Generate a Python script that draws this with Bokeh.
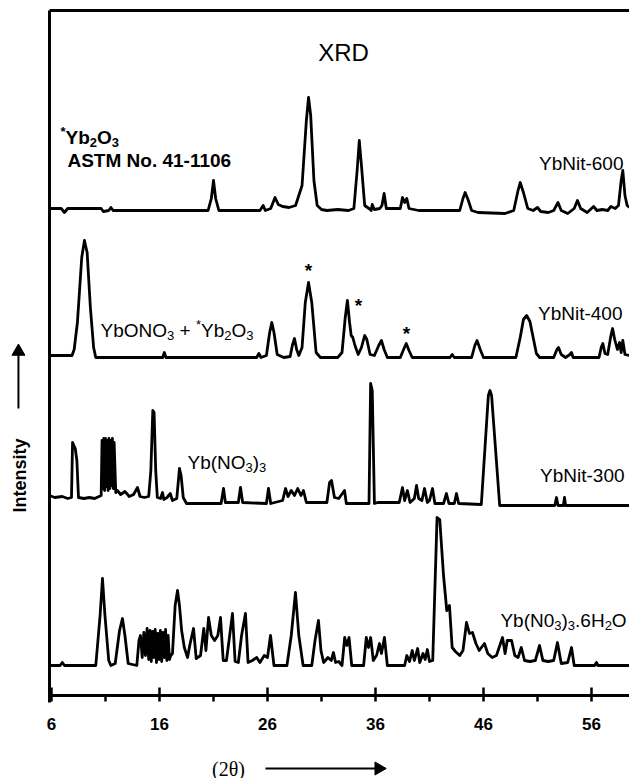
import math
from bokeh.plotting import figure
from bokeh.models import Range1d, FixedTicker, Label, LinearAxis
from bokeh.embed import file_html
from bokeh.resources import INLINE

# ---------------- data ----------------
# YbNit-600 (2theta, relative intensity)
tt_600 = [5.82, 6.9, 7.2, 7.5, 10.6, 10.8, 11.3, 11.5, 11.7, 13.0, 20.5, 20.8, 21.0, 21.2, 21.5,
          25.3, 25.6, 25.8, 26.3, 26.7, 27.0, 27.4, 28.0, 28.6, 29.2, 29.6, 29.8, 30.0, 30.3, 30.6,
          31.0, 31.5, 32.5, 33.5, 34.0, 34.3, 34.5, 34.7, 35.0, 35.4, 35.6, 35.7, 35.9, 36.4, 36.6,
          36.8, 37.0, 38.3, 38.5, 38.7, 38.9, 39.1, 40.0, 43.8, 44.1, 44.3, 44.6, 44.9, 45.5, 48.0,
          48.8, 49.2, 49.4, 49.7, 50.1, 50.6, 51.0, 51.3, 52.0, 52.5, 52.9, 53.2, 53.8, 54.4, 54.7,
          55.0, 55.6, 56.0, 56.2, 56.5, 57.0, 57.5, 57.8, 58.2, 58.5, 58.75, 58.9, 59.1, 59.3, 59.52]
int_600 = [2, 2, -2, 2, 2, -1, 0, 3, 0, 0, 0, 12, 30, 12, 0,
           0, 5, 0, 2, 13, 6, 4, 3, 5, 25, 90, 113, 95, 30, 5,
           1, 0, 1, 0, 2, 40, 70, 45, 5, 2, 0, 6, 1, 2, 5,
           17, 2, 2, 13, 8, 12, 2, 0, 0, 12, 18, 10, 0, -2, -3,
           0, 20, 28, 18, 2, 0, 3, -1, -2, 0, 8, 0, -3, 2, 10,
           2, -2, 2, 4, 0, 1, 0, 4, 2, 5, 30, 40, 15, 5, 3]

# YbNit-400
tt_400 = [5.82, 7.9, 8.1, 8.4, 8.8, 9.05, 9.3, 9.6, 9.9, 10.1, 12.0, 16.3, 16.45, 16.6, 25.0,
          25.2, 25.4, 25.9, 26.2, 26.4, 26.6, 26.9, 27.5, 28.1, 28.3, 28.5, 28.7, 28.9, 29.2, 29.5,
          29.8, 30.1, 30.5, 30.9, 32.5, 32.9, 33.2, 33.4, 33.6, 33.75, 33.9, 34.1, 34.4, 34.7, 35.0,
          35.2, 35.5, 35.9, 36.3, 36.55, 36.8, 37.1, 38.3, 38.6, 38.85, 39.1, 39.4, 42.9, 43.1, 43.3,
          44.9, 45.2, 45.4, 45.7, 46.0, 49.0, 49.4, 49.7, 50.0, 50.3, 50.6, 50.9, 51.2, 52.5, 52.8,
          52.95, 53.2, 53.6, 54.0, 54.15, 54.3, 56.7, 56.9, 57.05, 57.25, 57.5, 57.8, 57.95, 58.15, 58.4,
          58.6, 58.75, 58.9, 59.1, 59.52]
int_400 = [2, 2, 8, 35, 100, 117, 105, 50, 10, 0, 0, 0, 5, 0, 0,
           4, 0, 2, 25, 35, 25, 3, 0, 1, 12, 19, 8, 2, 10, 55,
           75, 55, 5, 0, 0, 5, 40, 57, 35, 22, 20, 12, 3, 10, 22,
           18, 3, 2, 12, 17, 8, 0, 0, 8, 14, 7, 0, 0, 3, 0,
           0, 12, 17, 8, 0, 0, 20, 38, 42, 36, 20, 4, 0, 0, 8,
           10, 3, 0, 3, 5, 0, 0, 10, 14, 4, 3, 22, 29, 18, 8,
           15, 5, 17, 3, 2]

# YbNit-300
tt_300 = [5.82, 6.3, 7.0, 7.5, 7.85, 7.95, 8.2, 8.35, 8.5, 9.0, 9.5, 10.0, 10.4, 10.6, 10.68,
          10.76, 10.84, 10.92, 11.0, 11.08, 11.16, 11.24, 11.32, 11.4, 11.48, 11.56, 11.64, 11.72, 11.8, 11.95,
          12.1, 12.4, 12.8, 13.2, 13.6, 13.96, 14.2, 14.6, 15.0, 15.2, 15.38, 15.5, 15.65, 15.8, 16.1,
          16.28, 16.4, 16.7, 17.0, 17.2, 17.6, 17.85, 18.0, 18.2, 18.5, 21.7, 21.93, 22.1, 23.3, 23.5,
          23.7, 25.9, 26.09, 26.3, 27.4, 27.67, 27.9, 28.2, 28.5, 28.8, 29.1, 29.33, 29.6, 31.5, 31.75,
          31.93, 32.2, 32.6, 33.13, 33.3, 35.4, 35.55, 35.7, 35.9, 36.2, 38.2, 38.5, 38.7, 38.96, 39.2,
          39.6, 39.8, 40.0, 40.3, 40.54, 40.8, 41.0, 41.28, 41.5, 42.3, 42.57, 42.8, 43.3, 43.5, 43.7,
          45.8, 46.45, 46.6, 46.75, 47.5, 52.6, 52.76, 52.9, 53.4, 53.5, 53.6, 59.52]
int_300 = [5, 3, 4, 2, 3, 58, 52, 40, 3, 2, 3, 2, 4, 5, 60,
           12, 62, 10, 62, 14, 60, 10, 62, 12, 60, 15, 62, 12, 58, 8,
           10, 6, 9, 4, 6, 13, 4, 3, 4, 30, 90, 88, 30, 3, 2,
           8, 1, 3, 7, 0, 2, 32, 25, 3, -3, -3, 12, -2, -2, 13,
           -2, -3, 12, -3, 0, 12, 4, 10, 5, 12, 5, 10, -2, -2, 18,
           20, 3, 2, 10, -3, -3, 117, 110, -3, -2, -2, 13, 0, 10, -2,
           2, 15, 2, 0, 12, -2, 0, 12, -3, -3, 7, -3, -3, 7, -3,
           -4, 105, 110, 105, -5, -5, 3, -5, -5, 3, -5, -5]

# Yb(NO3)3.6H2O
tt_hyd = [5.82, 6.8, 7.0, 7.2, 10.1, 10.5, 10.72, 10.95, 11.3, 11.5, 11.9, 12.3, 12.57, 12.8, 13.1,
          13.9, 14.1, 14.24, 14.4, 14.55, 14.7, 14.85, 15.0, 15.12, 15.24, 15.36, 15.48, 15.6, 15.72, 15.84,
          15.96, 16.08, 16.2, 16.32, 16.44, 16.56, 16.68, 16.8, 16.92, 17.05, 17.2, 17.45, 17.67, 17.85, 18.05,
          18.3, 18.6, 18.8, 19.15, 19.4, 19.8, 20.1, 20.3, 20.54, 20.8, 21.1, 21.4, 21.65, 21.9, 22.2,
          22.5, 22.76, 23.0, 23.3, 23.6, 23.96, 24.2, 24.6, 25.0, 25.3, 25.7, 26.0, 26.28, 26.6, 27.8,
          28.2, 28.59, 28.9, 29.3, 30.1, 30.4, 30.72, 30.95, 31.2, 31.6, 31.9, 32.11, 32.3, 32.6, 32.9,
          33.15, 33.35, 33.55, 33.8, 34.9, 35.15, 35.35, 35.55, 35.8, 36.1, 36.37, 36.55, 36.83, 37.1, 38.7,
          38.9, 39.15, 39.4, 39.6, 39.9, 40.1, 40.4, 40.6, 40.8, 41.0, 41.3, 41.7, 41.95, 42.3, 42.6,
          42.85, 43.1, 43.4, 43.8, 44.1, 44.43, 44.7, 44.98, 45.3, 45.6, 46.09, 46.4, 46.8, 47.2, 47.76,
          48.0, 48.2, 48.6, 48.9, 49.2, 49.5, 49.8, 50.3, 50.8, 51.19, 51.5, 52.0, 52.5, 52.85, 53.2,
          53.8, 54.15, 54.4, 56.3, 56.46, 56.6, 59.52]
int_hyd = [0, 0, 3, 0, 0, 50, 87, 50, 5, 0, 2, 35, 47, 30, 2,
           0, 25, 30, 8, 33, 10, 37, 6, 35, 4, 34, 8, 36, 3, 32,
           6, 35, 4, 33, 8, 36, 5, 30, 6, 10, 12, 60, 75, 60, 35,
           18, 8, 20, 37, 7, 10, 37, 15, 48, 30, 25, 30, 48, 5, 5,
           30, 52, 4, 3, 30, 52, 3, 5, 8, 3, 10, 8, 30, 0, 0,
           30, 73, 30, 0, 0, 25, 45, 15, 3, 8, 5, 13, 3, 4, 0,
           28, 20, 28, 0, 0, 28, 18, 28, 5, 10, 22, 12, 28, 0, 0,
           10, 4, 15, 5, 17, 3, 12, 6, 16, 4, 5, 148, 146, 90, 55,
           60, 18, 14, 10, 15, 43, 32, 33, 22, 15, 22, 12, 8, 10, 28,
           12, 25, 25, 10, 8, 18, 5, 4, 5, 20, 5, 4, 5, 23, 2,
           3, 18, 0, 0, 3, 0, 0]

patterns = [tt_600, tt_400, tt_300, tt_hyd]
intensities = [int_600, int_400, int_300, int_hyd]
offsets = [568, 421, 278, 113]          # vertical stacking of the four patterns

x_ticks = [6, 16, 26, 36, 46, 56]
x_minor = [11, 21, 31, 41, 51]

X0, X1 = 1.278, 59.52       # whole canvas width in 2-theta units
Y0, Y1 = 0, 778             # whole canvas height
AXIS_Y = 83                 # level of the 2-theta axis
LEFT_X = 5.815              # left frame line
TOP_Y = 768                 # top frame line

FONT = "Liberation Sans"

p = figure(width=629, height=778, x_range=Range1d(X0, X1), y_range=Range1d(Y0, Y1),
           output_backend="svg", toolbar_location=None,
           x_axis_location=None, y_axis_location=None,
           min_border_left=0, min_border_right=0, min_border_top=0, min_border_bottom=0)
p.outline_line_color = None
p.grid.visible = False
p.background_fill_color = "white"
p.border_fill_color = "white"

for tt, ii, off in zip(patterns, intensities, offsets):
    p.line(tt, [v + off for v in ii], line_color="black", line_width=2.8, line_join="round")

# frame lines (left and top)
p.line([LEFT_X, LEFT_X], [AXIS_Y - 7, TOP_Y], line_color="black", line_width=3)
p.line([LEFT_X, X1], [TOP_Y, TOP_Y], line_color="black", line_width=3)

ax = LinearAxis(fixed_location=AXIS_Y)
ax.bounds = (LEFT_X, X1)
ax.ticker = FixedTicker(ticks=x_ticks, minor_ticks=x_minor)
ax.axis_line_width = 3
ax.major_tick_line_width = 2.5
ax.minor_tick_line_width = 2.5
ax.major_tick_in = 8
ax.major_tick_out = 6
ax.minor_tick_in = 0
ax.minor_tick_out = 6
ax.major_label_text_font = FONT
ax.major_label_text_font_style = "bold"
ax.major_label_text_font_size = "17px"
ax.major_label_text_color = "black"
ax.major_label_standoff = 16
p.add_layout(ax, "below")


def lab(text, x, y, size="19px", style="normal", align="left", font=FONT, angle=0,
        dx=0, dy=0):
    p.add_layout(Label(x=x, y=y, text=text, text_font=font, text_font_size=size,
                       text_font_style=style, text_align=align, text_baseline="middle",
                       text_color="black", angle=angle, x_offset=dx, y_offset=dy))


# approximate advance widths (em) of Liberation Sans, for composing sub/superscripts
W_REG = {"Y": .667, "b": .556, "O": .778, "N": .722, "(": .333, ")": .333, "0": .556,
         "+": .584, " ": .278, ".": .278, "6": .556, "H": .722, "2": .556, "3": .556, "*": .389}
W_BOLD = {"Y": .667, "b": .611, "O": .778, "2": .556, "3": .556, "*": .389}


def formula(parts, x, y, style="normal", size=19):
    """parts: list of (text, kind); kind 'n' normal, 'sub', 'sup', or 'gap' (space only)"""
    table = W_BOLD if style == "bold" else W_REG
    off = 0.0
    for text, kind in parts:
        if kind == "gap":
            off += 0.278 * size
            continue
        fs = size if kind == "n" else 13
        dy = 0 if kind == "n" else (-5 if kind == "sub" else 6)
        lab(text, x, y, size=f"{fs}px", style=style, dx=off, dy=dy)
        off += sum(table.get(c, .556) for c in text) * fs


lab("XRD", 33.04, 726, size="24px", align="center")
formula([("*", "sup"), ("Yb", "n"), ("2", "sub"), ("O", "n"), ("3", "sub")], 6.83, 641,
        style="bold")
lab("ASTM No. 41-1106", 7.48, 618, style="bold")
lab("YbNit-600", 58.96, 615, align="right")
formula([("YbONO", "n"), ("3", "sub"), ("", "gap"), ("+", "n"), ("", "gap"), ("*", "sup"),
         ("Yb", "n"), ("2", "sub"), ("O", "n"), ("3", "sub")], 10.54, 448)
lab("YbNit-400", 58.87, 465, align="right")
formula([("Yb(NO", "n"), ("3", "sub"), (")", "n"), ("3", "sub")], 18.59, 316)
lab("YbNit-300", 59.06, 303, align="right")
formula([("Yb(N0", "n"), ("3", "sub"), (")", "n"), ("3", "sub"), (".6H", "n"), ("2", "sub"),
         ("O", "n")], 47.57, 158)
for sx, sy in [(29.8, 508), (34.43, 473), (38.87, 445)]:
    lab("*", sx, sy, size="19px", style="bold", align="center")

lab("Intensity", 3.04, 303, size="18px", style="bold", align="center", angle=math.pi / 2)
lab("(2\u03b8)", 22.39, 10, size="20px", align="center", font="Liberation Serif")

# arrows: shaft + filled head
p.line([2.94, 2.94], [370, 424], line_color="black", line_width=2)
p.scatter([2.94], [427], marker="triangle", size=13, color="black")
p.line([25.81, 36.2], [10, 10], line_color="black", line_width=2)
p.scatter([36.3], [10], marker="triangle", size=13, color="black", angle=-math.pi / 2)

open("out.html", "w").write(file_html(p, INLINE))
